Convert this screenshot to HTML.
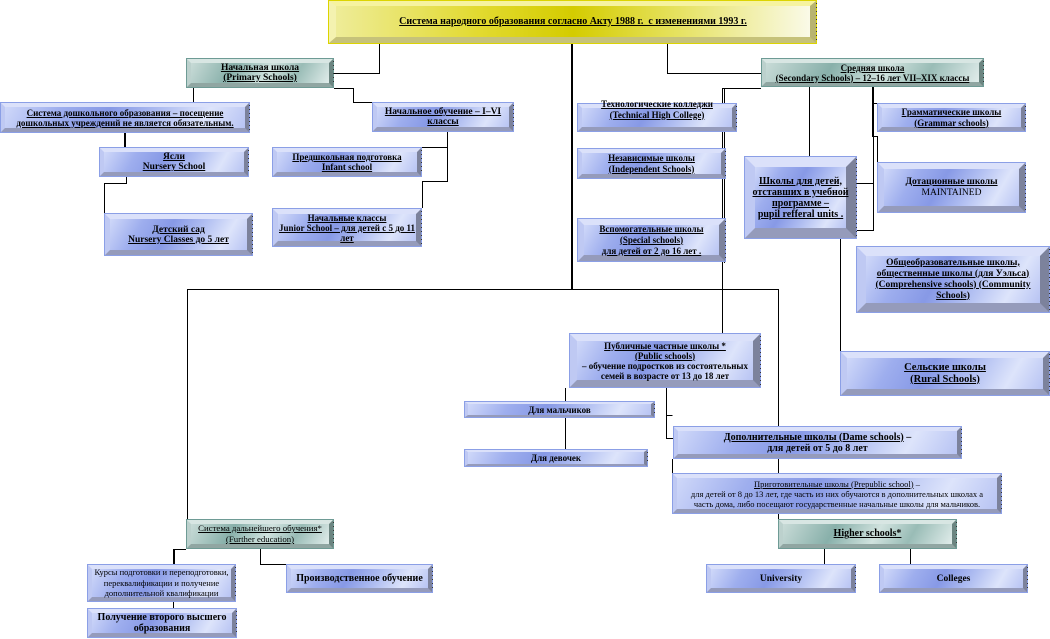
<!DOCTYPE html>
<html><head><meta charset="utf-8">
<style>
html,body{margin:0;padding:0;background:#fff;}
body{width:1050px;height:639px;position:relative;overflow:hidden;font-family:"Liberation Serif","DejaVu Serif",serif;}
svg.ln{position:absolute;left:0;top:0;z-index:0;}
.b{position:absolute;box-sizing:border-box;border:1px solid #8b9fe6;z-index:2;}
.b::after{content:"";position:absolute;right:-1px;top:2px;bottom:2px;width:1px;background:repeating-linear-gradient(to bottom,#333 0 1px,transparent 1px 4px);}
.f{position:absolute;left:0;top:0;right:0;bottom:0;box-sizing:border-box;border-style:solid;border-width:4px;
display:flex;align-items:center;justify-content:center;text-align:center;white-space:nowrap;color:#000;
font-weight:bold;font-size:9.5px;line-height:10px;}
.u{text-decoration:underline;}
.blue .f{border-color:#dbe1fa #7c829c #959bbb #bfc9f3;
background:linear-gradient(120deg,#cfd8f9 0%,#9eaeee 22%,#8799e6 42%,#afbdf1 62%,#dde4fb 82%,#b7c3f3 100%);}
.teal{border-color:#6e9b95;}
.teal .f{border-color:#d8e6e3 #6c8581 #90a6a2 #bcd1cd;
background:linear-gradient(120deg,#c8dbd7 0%,#88b0aa 30%,#d0e2de 55%,#99bcb6 75%,#e0ecea 100%);}
.yel{border-color:#dcd400;}
.yel .f{border-color:#f6f3a0 #b8b470 #c6c27a #f4f2b0;
background:linear-gradient(90deg,#eeec98 0%,#e2da30 30%,#d4cc00 50%,#e6e260 72%,#fafae8 100%);}
.r{font-weight:normal;}
</style></head><body>

<svg class="ln" width="1050" height="639" viewBox="0 0 1050 639" shape-rendering="crispEdges">
<g fill="none" stroke="#000" stroke-width="1">
<path d="M379.5 44V73.5H334"/>
<path d="M667.5 44V73.5H761"/>
<path d="M193.5 88V102"/>
<path d="M334 88.5H353.5V102.5H372"/>
<path d="M126.5 177V183.5H104.5V213"/>
<path d="M447.5 132V181.5H422.5V208"/>
<path d="M447 147.5H422"/>
<path d="M761 88.5H722.5V333"/>
<path d="M724.5 88V263"/>
<path d="M809.5 87V156"/>
<path d="M873 103.5H877"/>
<path d="M873 136.5H877.5V162"/>
<path d="M873.5 137V230.5H857"/>
<path d="M857 183.5H873"/>
<path d="M840.5 239V351"/>
<path d="M187.5 289.5H778.5V426"/>
<path d="M187.5 289V519"/>
<path d="M565.5 388V401"/>
<path d="M565.5 418V449"/>
<path d="M666.5 388V438.5H673"/>
<path d="M666 415.5H672.5"/>
<path d="M672.5 459V473"/>
<path d="M778.5 459V473"/>
<path d="M778.5 514V519"/>
<path d="M824.5 549V564"/>
<path d="M910.5 549V564"/>
<path d="M186 549.5H174"/>
<path d="M173.5 602V608"/>
<path d="M260.5 549V564.5H286"/>
</g>
<g fill="#000">
<rect x="571" y="44" width="2" height="246"/>
<rect x="124" y="133" width="2" height="14"/>
<rect x="872" y="87" width="2" height="50"/>
<rect x="173" y="549" width="2" height="15"/>
</g>
</svg>

<!-- Title -->
<div class="b yel" style="left:328px;top:0;width:489px;height:44px;"><div class="f u" style="border-width:5px 6px 6px 7px;font-size:10px;">Система народного образования согласно Акту 1988 г.&nbsp; с изменениями 1993 г.</div></div>

<!-- Primary -->
<div class="b teal" style="left:186px;top:58px;width:148px;height:30px;"><div class="f u">Начальная школа<br>(Primary Schools)</div></div>

<!-- Secondary -->
<div class="b teal" style="left:761px;top:58px;width:223px;height:29px;"><div class="f u" style="font-size:9px;">Средняя школа<br>(Secondary Schools) – 12–16 лет VII–XIX классы</div></div>

<!-- Preschool -->
<div class="b blue" style="left:0;top:102px;width:250px;height:31px;"><div class="f u" style="font-size:9px;">Система дошкольного образования – посещение<br>дошкольных учреждений не является обязательным.</div></div>

<!-- Nach obuchenie -->
<div class="b blue" style="left:372px;top:102px;width:142px;height:30px;"><div class="f u">Начальное обучение – I–VI<br>классы</div></div>

<!-- Yasli -->
<div class="b blue" style="left:99px;top:147px;width:150px;height:30px;"><div class="f u">Ясли<br>Nursery School</div></div>

<!-- Detsad -->
<div class="b blue" style="left:104px;top:213px;width:149px;height:43px;"><div class="f u" style="border-width:5px;">Детский сад<br>Nursery Classes до 5 лет</div></div>

<!-- Infant -->
<div class="b blue" style="left:272px;top:147px;width:150px;height:30px;"><div class="f u" style="font-size:9px;">Предшкольная подготовка<br>Infant school</div></div>

<!-- Junior -->
<div class="b blue" style="left:272px;top:208px;width:150px;height:39px;"><div class="f u" style="border-width:5px;font-size:9px;">Начальные классы<br>Junior School – для детей с 5 до 11<br>лет</div></div>

<!-- Technical -->
<div class="b blue" style="left:577px;top:103px;width:160px;height:29px;"><div class="f u" style="font-size:9px;line-height:11px;"><span style="position:relative;top:-8px;">Технологические колледжи<br>(Technical High College)</span></div></div>

<!-- Independent -->
<div class="b blue" style="left:577px;top:148px;width:149px;height:31px;"><div class="f u" style="font-size:9px;line-height:11px;">Независимые школы<br>(Independent Schools)</div></div>

<!-- Special -->
<div class="b blue" style="left:577px;top:218px;width:149px;height:44px;"><div class="f u" style="border-width:6px;font-size:9px;line-height:11px;">Вспомогательные школы<br>(Special schools)<br>для детей от 2 до 16 лет .</div></div>

<!-- Pupil referral -->
<div class="b blue" style="left:744px;top:156px;width:113px;height:83px;"><div class="f u" style="border-width:10px;font-size:10px;line-height:11px;">Школы для детей,<br>отставших в учебной<br>программе –<br>pupil refferal units .</div></div>

<!-- Grammar -->
<div class="b blue" style="left:877px;top:103px;width:149px;height:29px;"><div class="f u" style="font-size:9px;line-height:11px;">Грамматические школы<br>(Grammar schools)</div></div>

<!-- Dotation -->
<div class="b blue" style="left:877px;top:162px;width:149px;height:51px;"><div class="f" style="border-width:6px;font-size:9.5px;line-height:11px;"><span><span class="u">Дотационные школы</span><br><span class="r">MAINTAINED</span></span></div></div>

<!-- Comprehensive -->
<div class="b blue" style="left:856px;top:246px;width:194px;height:67px;"><div class="f u" style="border-width:9px;font-size:9.5px;line-height:11px;">Общеобразовательные школы,<br>общественные школы (для Уэльса)<br>(Comprehensive schools) (Community<br>Schools)</div></div>

<!-- Rural -->
<div class="b blue" style="left:840px;top:351px;width:210px;height:45px;"><div class="f u" style="border-width:6px;font-size:10.5px;line-height:12px;">Сельские школы<br>(Rural Schools)</div></div>

<!-- Public -->
<div class="b blue" style="left:569px;top:333px;width:192px;height:55px;"><div class="f" style="border-width:7px;font-size:9px;line-height:10px;"><span><span class="u">Публичные частные школы *</span><br><span class="u">(Public schools)</span><br>– обучение подростков из состоятельных<br>семей в возрасте от 13 до 18 лет</span></div></div>

<!-- Boys / Girls -->
<div class="b blue" style="left:464px;top:401px;width:191px;height:17px;"><div class="f" style="border-width:2px 3px;font-size:9px;">Для мальчиков</div></div>
<div class="b blue" style="left:464px;top:449px;width:184px;height:18px;"><div class="f" style="border-width:2px 3px;font-size:9px;">Для девочек</div></div>

<!-- Dame -->
<div class="b blue" style="left:673px;top:426px;width:289px;height:33px;"><div class="f" style="font-size:10px;line-height:11px;"><span><span class="u">Дополнительные школы (Dame schools)</span> –<br>для детей от 5 до 8 лет</span></div></div>

<!-- Prep -->
<div class="b blue" style="left:672px;top:473px;width:330px;height:41px;"><div class="f r" style="font-size:8.5px;line-height:10px;"><span><span class="u">Приготовительные школы (Prepublic school)</span> –<br>для детей от 8 до 13 лет, где часть из них обучаются в дополнительных школах а<br>часть дома, либо посещают государственные начальные школы для мальчиков.</span></div></div>

<!-- Higher -->
<div class="b teal" style="left:778px;top:519px;width:179px;height:30px;"><div class="f u" style="font-size:10px;">Higher schools*</div></div>

<!-- University / Colleges -->
<div class="b blue" style="left:706px;top:564px;width:150px;height:29px;"><div class="f" style="font-size:9.5px;">University</div></div>
<div class="b blue" style="left:879px;top:564px;width:149px;height:29px;"><div class="f" style="font-size:9.5px;">Colleges</div></div>

<!-- Further education -->
<div class="b teal" style="left:186px;top:519px;width:148px;height:30px;"><div class="f u r" style="font-size:8.8px;line-height:11px;">Система дальнейшего обучения*<br>(Further education)</div></div>

<!-- Kursy -->
<div class="b blue" style="left:87px;top:564px;width:149px;height:38px;"><div class="f r" style="font-size:8.5px;line-height:10.5px;">Курсы подготовки и переподготовки,<br>переквалификации и получение<br>дополнительной квалификации</div></div>

<!-- Poluchenie -->
<div class="b blue" style="left:87px;top:608px;width:150px;height:30px;"><div class="f" style="font-size:10px;line-height:11px;">Получение второго высшего<br>образования</div></div>

<!-- Proizvodstvennoe -->
<div class="b blue" style="left:286px;top:564px;width:147px;height:29px;"><div class="f" style="font-size:10px;">Производственное обучение</div></div>

</body></html>
